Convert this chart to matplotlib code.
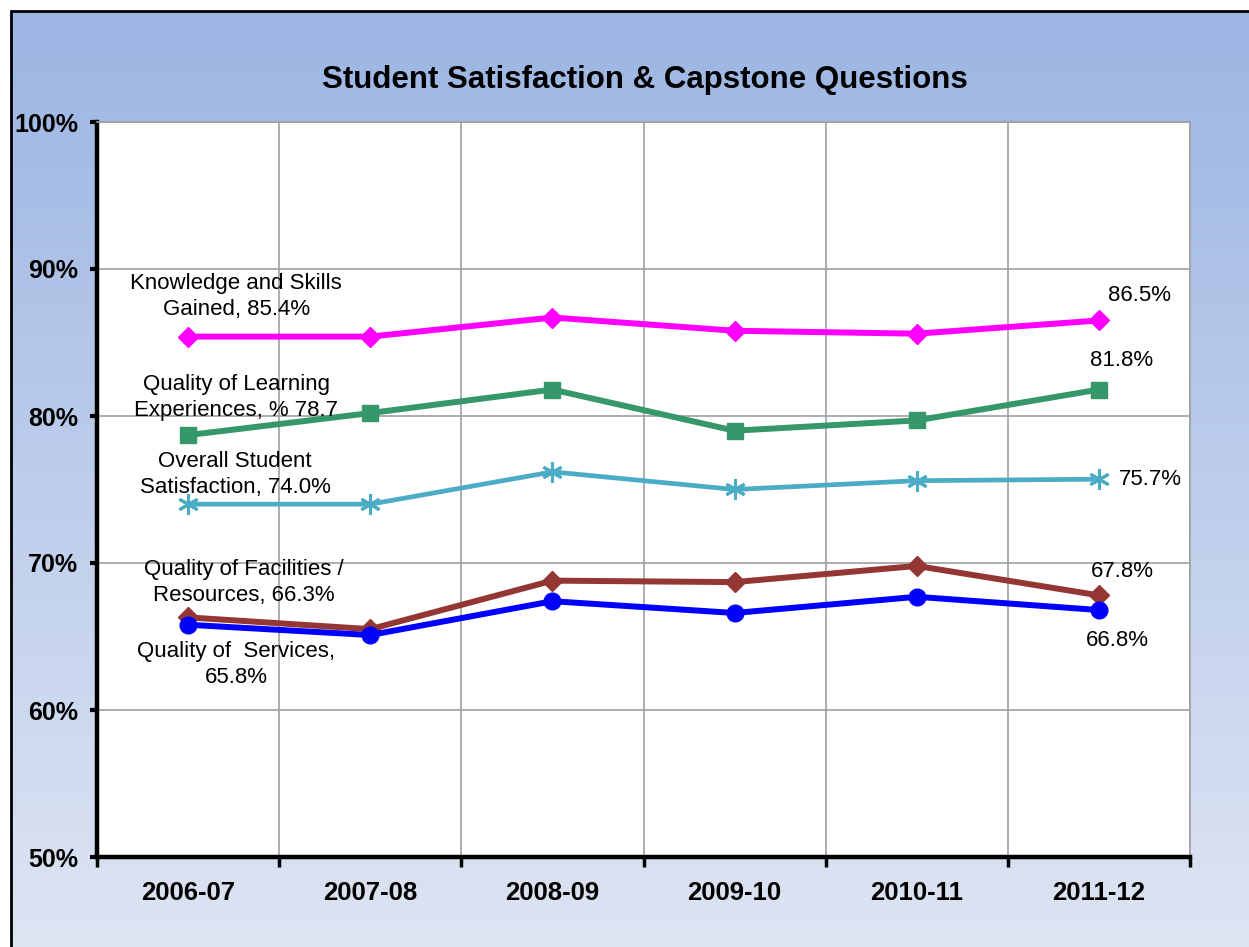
import numpy as np
import matplotlib
matplotlib.use("Agg")
import matplotlib.pyplot as plt
from matplotlib.patches import Rectangle
from matplotlib.ticker import FixedLocator, PercentFormatter

plt.rcParams['font.family'] = ['Liberation Sans', 'DejaVu Sans']

years = ["2006-07", "2007-08", "2008-09", "2009-10", "2010-11", "2011-12"]
knowledge = [85.4, 85.4, 86.7, 85.8, 85.6, 86.5]
learning = [78.7, 80.2, 81.8, 79.0, 79.7, 81.8]
overall = [74.0, 74.0, 76.2, 75.0, 75.6, 75.7]
facilities = [66.3, 65.5, 68.8, 68.7, 69.8, 67.8]
services = [65.8, 65.1, 67.4, 66.6, 67.7, 66.8]

W, H = 1249, 947
fig = plt.figure(figsize=(W / 100, H / 100), dpi=100)

# gradient background with black frame
bg = fig.add_axes([0, 0, 1, 1], zorder=-10)
grad = np.linspace(0, 1, 256).reshape(-1, 1)
top = np.array([0x9c, 0xb5, 0xe3]) / 255
bot = np.array([0xde, 0xe5, 0xf3]) / 255
img = top + (bot - top) * grad[:, :, None]
bg.add_patch(Rectangle((0, 0), W, H, facecolor="white", edgecolor="none", zorder=-1))
bg.imshow(img, aspect="auto", extent=[11, W + 5, -5, H - 11], origin="upper", zorder=0)
bg.add_patch(Rectangle((11, -5), W, H - 6, facecolor="none", edgecolor="black", lw=2, zorder=1))
bg.set_xlim(0, W)
bg.set_ylim(0, H)
bg.axis("off")

ax = fig.add_axes([97 / W, 1 - 857 / H, (1190 - 97) / W, (857 - 122) / H])
ax.set_facecolor("white")
x = np.arange(len(years))

ax.plot(x, knowledge, color="#ff00ff", lw=4.3, marker="D", ms=10, zorder=5)
ax.plot(x, learning, color="#35976a", lw=4.3, marker="s", ms=11, zorder=5)
ax.plot(x, overall, color="#4bacc6", lw=3.4, marker=(6, 2, 0), ms=15, mew=2.2, zorder=5)
ax.plot(x, facilities, color="#943634", lw=4.3, marker="D", ms=10, zorder=5)
ax.plot(x, services, color="#0000ff", lw=4.3, marker="o", ms=12, zorder=6)

ax.set_xlim(-0.5, len(years) - 0.5)
ax.set_ylim(50, 100)
ax.yaxis.set_major_locator(FixedLocator([50, 60, 70, 80, 90, 100]))
ax.yaxis.set_major_formatter(PercentFormatter(decimals=0))
ax.set_xticks(x)
ax.set_xticklabels(years)
ax.set_xticks(np.arange(-0.5, len(years)), minor=True)

ax.grid(True, which="minor", axis="x", color="#a0a0a0", lw=1.2)
ax.grid(True, which="major", axis="y", color="#a0a0a0", lw=1.2)
ax.set_axisbelow(True)

for s in ["top", "right"]:
    ax.spines[s].set_color("#a0a0a0")
    ax.spines[s].set_linewidth(1.2)
for s in ["left", "bottom"]:
    ax.spines[s].set_color("black")
    ax.spines[s].set_linewidth(3.2)

ax.tick_params(axis="x", which="major", length=0, pad=17)
ax.tick_params(axis="x", which="minor", length=7, width=2.5, direction="out")
ax.tick_params(axis="y", which="major", length=5, width=3, direction="out", pad=8.5)
for lab in ax.get_xticklabels():
    lab.set_fontsize(18.5)
    lab.set_fontweight("bold")
for lab in ax.get_yticklabels():
    lab.set_fontsize(18)
    lab.set_fontweight("bold")

fig.text(645 / W, 1 - 80 / H, "Student Satisfaction & Capstone Questions",
         ha="center", va="center", fontsize=22.5, fontweight="bold")

fs = 16
def note(txt, i, vals, dx, dy, ha="center"):
    ax.annotate(txt, xy=(i, vals[i]), xytext=(dx, dy), textcoords="offset pixels",
                ha=ha, va="center", fontsize=fs, linespacing=1.3, zorder=7)

note("Knowledge and Skills\nGained, 85.4%", 0, knowledge, 48, 40)
note("Quality of Learning\nExperiences, % 78.7", 0, learning, 48, 38)
note("Overall Student\nSatisfaction, 74.0%", 0, overall, 47, 30)
note("Quality of Facilities /\nResources, 66.3%", 0, facilities, 56, 35)
note("Quality of  Services,\n65.8%", 0, services, 48, -40)
note("86.5%", 5, knowledge, 41, 25)
note("81.8%", 5, learning, 23, 29)
note("75.7%", 5, overall, 20, 0, ha="left")
note("67.8%", 5, facilities, 23, 24)
note("66.8%", 5, services, 18, -30)

fig.savefig("out.png", dpi=100)
